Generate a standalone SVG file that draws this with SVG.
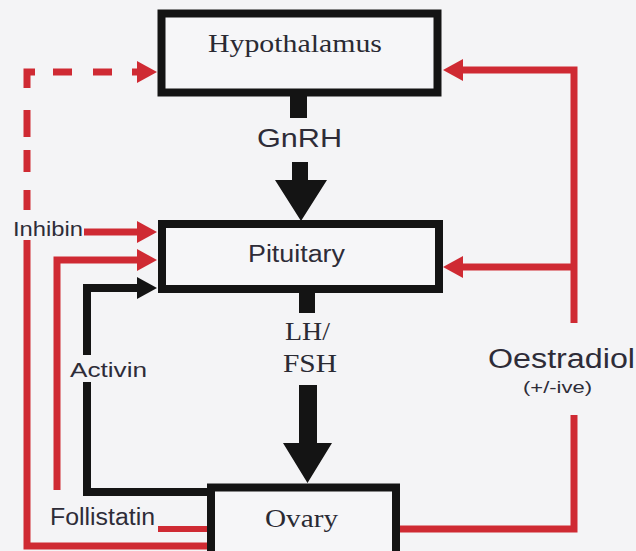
<svg xmlns="http://www.w3.org/2000/svg" width="636" height="551" viewBox="0 0 636 551">
  <defs>
    <marker id="redHead" markerUnits="userSpaceOnUse" markerWidth="22" markerHeight="22" refX="2" refY="11" orient="auto">
      <path d="M0,0 L20,11 L0,22 Z" fill="#cf2a33"/>
    </marker>
    <marker id="blackHead" markerUnits="userSpaceOnUse" markerWidth="22" markerHeight="22" refX="2" refY="11" orient="auto">
      <path d="M0,0 L20,11 L0,22 Z" fill="#141414"/>
    </marker>
  </defs>
  <style>
    .box { fill: #f6f6f8; stroke: #141414; stroke-width: 8; }
    .red { fill: none; stroke: #cf2a33; stroke-width: 7; stroke-linejoin: miter; }
    .blk { fill: none; stroke: #141414; stroke-width: 8; stroke-linejoin: miter; }
    .big { fill: #141414; }
    .serif { font-family: "Liberation Serif", "DejaVu Serif", serif; fill: #2a2a33; }
    .sans { font-family: "Liberation Sans", "DejaVu Sans", sans-serif; fill: #2e2c38; }
  </style>
  <rect x="0" y="0" width="636" height="551" fill="#f4f4f6"/>

  <g id="connectors">
    <!-- GnRH big arrow -->
    <rect class="big" x="290" y="96" width="17" height="22"/>
    <path class="big" d="M292,162 H308 V180 H327 L301,221 L275,180 H292 Z"/>
    <!-- LH/FSH big arrow -->
    <rect class="big" x="299" y="293" width="16" height="20"/>
    <path class="big" d="M299,385 H317 V443 H332 L307.5,483 L283,443 H299 Z"/>

    <!-- Oestradiol feedback (right) -->
    <path class="red" d="M400,529 H574 V415"/>
    <path class="red" d="M574,323 V70 H461" marker-end="url(#redHead)"/>
    <path class="red" d="M574,267 H461" marker-end="url(#redHead)"/>

    <!-- dashed feedback to hypothalamus -->
    <path class="red" d="M27,210 V190 M27,172 V150 M27,137 V110 M27,88 V72 H35 M53,72 H72 M93,72 H112 M132,72 H139" marker-end="url(#redHead)"/>
    <!-- solid outer loop from ovary -->
    <path class="red" d="M27,240 V546 H207"/>
    <!-- Inhibin -->
    <path class="red" d="M84,232 H139" marker-end="url(#redHead)"/>
    <!-- second red to pituitary -->
    <path class="red" d="M57,490 V260 H139" marker-end="url(#redHead)"/>
    <!-- Follistatin -->
    <path class="red" d="M158,529 H207" style="stroke-width:6"/>
    <!-- Activin -->
    <path class="blk" d="M207,492 H87 V382"/>
    <path class="blk" d="M87,355 V288 H139" marker-end="url(#blackHead)"/>
  </g>

  <g id="hypothalamus">
    <rect class="box" x="161.5" y="13.5" width="276" height="79"/>
    <text class="serif" x="208" y="52" font-size="25" textLength="174" lengthAdjust="spacingAndGlyphs">Hypothalamus</text>
  </g>

  <g id="pituitary">
    <rect class="box" x="162" y="224" width="277" height="65"/>
    <text class="sans" x="248" y="262" font-size="23" textLength="97" lengthAdjust="spacingAndGlyphs">Pituitary</text>
  </g>

  <g id="ovary">
    <rect class="box" x="211" y="487.5" width="185" height="80"/>
    <text class="serif" x="265" y="527" font-size="25" textLength="73" lengthAdjust="spacingAndGlyphs">Ovary</text>
  </g>

  <g id="labels">
    <text class="sans" x="257" y="147" font-size="26" textLength="85" lengthAdjust="spacingAndGlyphs">GnRH</text>
    <text class="serif" x="285" y="340" font-size="26" textLength="45" lengthAdjust="spacingAndGlyphs">LH/</text>
    <text class="serif" x="283" y="372" font-size="26" textLength="54" lengthAdjust="spacingAndGlyphs">FSH</text>
    <text class="sans" x="488" y="368" font-size="27" textLength="147" lengthAdjust="spacingAndGlyphs">Oestradiol</text>
    <text class="sans" x="523" y="393" font-size="17" textLength="69" lengthAdjust="spacingAndGlyphs">(+/-ive)</text>
    <text class="sans" x="13" y="236" font-size="20" textLength="70" lengthAdjust="spacingAndGlyphs">Inhibin</text>
    <text class="sans" x="70" y="377" font-size="20" textLength="77" lengthAdjust="spacingAndGlyphs">Activin</text>
    <text class="sans" x="50" y="525" font-size="23" textLength="105" lengthAdjust="spacingAndGlyphs">Follistatin</text>
  </g>
</svg>
